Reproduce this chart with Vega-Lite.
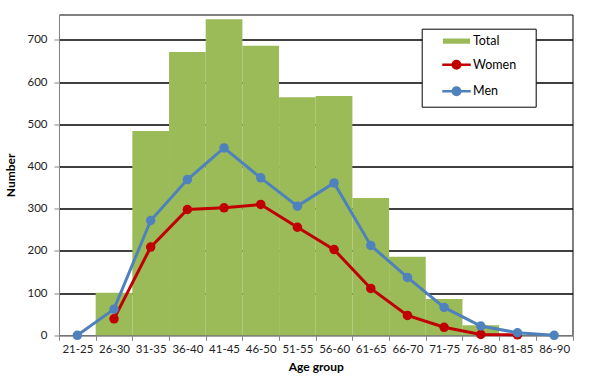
{
  "$schema": "https://vega.github.io/schema/vega-lite/v6.json",
  "width": 513.5,
  "height": 320.8,
  "autosize": {"type": "none"},
  "padding": {"left": 59, "top": 14.5, "right": 22.3, "bottom": 53.7},
  "background": "white",
  "data": {
    "values": [
      {"age": "26-30", "series": "Total", "value": 101},
      {"age": "31-35", "series": "Total", "value": 484},
      {"age": "36-40", "series": "Total", "value": 671},
      {"age": "41-45", "series": "Total", "value": 749},
      {"age": "46-50", "series": "Total", "value": 686},
      {"age": "51-55", "series": "Total", "value": 564},
      {"age": "56-60", "series": "Total", "value": 567},
      {"age": "61-65", "series": "Total", "value": 325},
      {"age": "66-70", "series": "Total", "value": 186},
      {"age": "71-75", "series": "Total", "value": 86},
      {"age": "76-80", "series": "Total", "value": 24},
      {"age": "26-30", "series": "Women", "value": 39},
      {"age": "31-35", "series": "Women", "value": 209},
      {"age": "36-40", "series": "Women", "value": 298},
      {"age": "41-45", "series": "Women", "value": 302},
      {"age": "46-50", "series": "Women", "value": 310},
      {"age": "51-55", "series": "Women", "value": 256},
      {"age": "56-60", "series": "Women", "value": 203},
      {"age": "61-65", "series": "Women", "value": 111},
      {"age": "66-70", "series": "Women", "value": 47},
      {"age": "71-75", "series": "Women", "value": 19},
      {"age": "76-80", "series": "Women", "value": 2},
      {"age": "81-85", "series": "Women", "value": 1},
      {"age": "21-25", "series": "Men", "value": 0},
      {"age": "26-30", "series": "Men", "value": 62},
      {"age": "31-35", "series": "Men", "value": 272},
      {"age": "36-40", "series": "Men", "value": 369},
      {"age": "41-45", "series": "Men", "value": 444},
      {"age": "46-50", "series": "Men", "value": 373},
      {"age": "51-55", "series": "Men", "value": 306},
      {"age": "56-60", "series": "Men", "value": 361},
      {"age": "61-65", "series": "Men", "value": 213},
      {"age": "66-70", "series": "Men", "value": 137},
      {"age": "71-75", "series": "Men", "value": 66},
      {"age": "76-80", "series": "Men", "value": 22},
      {"age": "81-85", "series": "Men", "value": 6},
      {"age": "86-90", "series": "Men", "value": 0}
    ]
  },
  "encoding": {
    "x": {
      "field": "age",
      "type": "ordinal",
      "scale": {
        "domain": ["21-25","26-30","31-35","36-40","41-45","46-50","51-55","56-60","61-65","66-70","71-75","76-80","81-85","86-90"],
        "paddingInner": 0,
        "paddingOuter": 0
      },
      "axis": {
        "title": "Age group",
        "labelAngle": 0,
        "tickBand": "extent",
        "tickSize": 5,
        "tickColor": "#868686",
        "domainColor": "#868686",
        "labelFont": "Lato",
        "labelFontSize": 11.5,
        "labelColor": "#222222",
        "labelPadding": 3,
        "titleFont": "Lato",
        "titleFontSize": 12,
        "titleFontWeight": "bold",
        "titleColor": "black",
        "titlePadding": 7,
        "grid": false
      }
    },
    "y": {
      "field": "value",
      "type": "quantitative",
      "scale": {"domain": [0, 760], "nice": false, "zero": true},
      "axis": {
        "title": "Number",
        "values": [0, 100, 200, 300, 400, 500, 600, 700],
        "tickSize": 5,
        "tickColor": "#868686",
        "domainColor": "#868686",
        "grid": true,
        "gridColor": {"condition": {"test": "datum.value === 0", "value": "transparent"}, "value": "black"},
        "gridOpacity": 1,
        "gridWidth": 1.3,
        "labelFont": "Lato",
        "labelFontSize": 11.5,
        "labelColor": "#222222",
        "labelPadding": 7,
        "titleFont": "Lato",
        "titleFontSize": 12,
        "titleFontWeight": "bold",
        "titleColor": "black",
        "titlePadding": 9
      }
    },
    "color": {
      "field": "series",
      "type": "nominal",
      "scale": {"domain": ["Total", "Women", "Men"], "range": ["#9BBB59", "#C00000", "#4F81BD"]},
      "legend": {
        "title": null,
        "orient": "none",
        "legendX": 362.7,
        "legendY": 14.2,
        "padding": 6,
        "fillColor": "white",
        "strokeColor": "black",
        "symbolSize": 100,
        "symbolStrokeWidth": 2.5,
        "symbolOffset": 22.3,
        "labelOffset": 10,
        "rowPadding": 7.5,
        "labelFont": "Lato",
        "labelFontSize": 12.5,
        "labelColor": "black",
        "encode": {
          "symbols": {
            "update": {
              "shape": {"signal": "datum.value === 'Total' ? 'M-5.76,0M13.64,0M-2.46,-0.28L2.46,-0.28L2.46,0.28L-2.46,0.28Z' : 'M-5.76,0M13.64,0M-2.85,0L2.85,0M-0.76,0A0.76,0.76 0 1,0 0.76,0A0.76,0.76 0 1,0 -0.76,0'"},
              "fill": {"signal": "datum.value === 'Total' ? '#9BBB59' : datum.value === 'Women' ? '#C00000' : '#4F81BD'"},
              "stroke": {"signal": "datum.value === 'Total' ? '#9BBB59' : datum.value === 'Women' ? '#C00000' : '#4F81BD'"},
              "strokeWidth": {"value": 2.5},
              "opacity": {"value": 1},
              "fillOpacity": {"value": 1},
              "strokeOpacity": {"value": 1}
            }
          }
        }
      }
    }
  },
  "layer": [
    {
      "transform": [{"filter": "datum.series === 'Total'"}],
      "mark": {"type": "bar", "opacity": 1}
    },
    {
      "transform": [{"filter": "datum.series === 'Women'"}],
      "mark": {"type": "line", "strokeWidth": 3, "point": {"filled": true, "size": 90, "opacity": 1}}
    },
    {
      "transform": [{"filter": "datum.series === 'Men'"}],
      "mark": {"type": "line", "strokeWidth": 3, "point": {"filled": true, "size": 90, "opacity": 1}}
    }
  ],
  "config": {
    "font": "Lato",
    "view": {"stroke": "black", "strokeWidth": 1}
  }
}
